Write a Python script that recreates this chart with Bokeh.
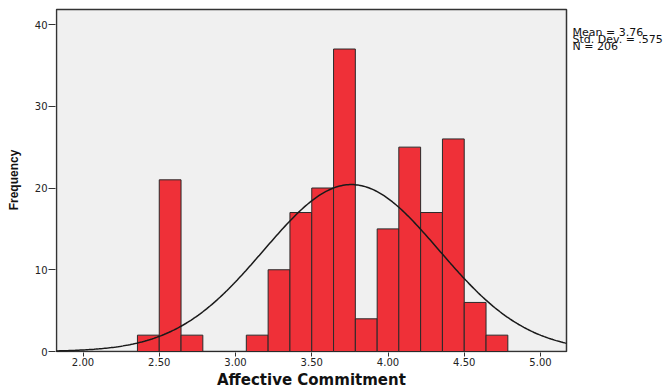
import numpy as np
from bokeh.plotting import figure
from bokeh.models import Range1d, FixedTicker, NumeralTickFormatter, Label, Title, ColumnDataSource
from bokeh.embed import file_html
from bokeh.resources import INLINE

# ---- data ----
bin_left = [2.357, 2.500, 2.643, 2.786, 2.929, 3.071, 3.214, 3.357, 3.500,
            3.643, 3.786, 3.929, 4.071, 4.214, 4.357, 4.500, 4.643]
bin_width = 1.0 / 7.0
counts = [2, 21, 2, 0, 0, 2, 10, 17, 20, 37, 4, 15, 25, 17, 26, 6, 2]
mean_val = 3.76
std_val = 0.575
n_val = 206
x_ticks = [2.0, 2.5, 3.0, 3.5, 4.0, 4.5, 5.0]
y_ticks = [0, 10, 20, 30, 40]
stats_lines = ["Mean = 3.76", "Std. Dev. = .575", "N = 206"]
x_title = "Affective Commitment"
y_title = "Frequency"

# ---- layout (pixels) ----
W, H = 670, 388
FL, FR, FT, FB = 56, 566, 9, 351      # visible chart box
PPX = 152.5                            # px per x unit
PPY = 8.175                            # px per count
X0 = 2.0 - (82.5 - FL) / PPX           # value at box left
X1 = X0 + (FR - FL) / PPX              # value at box right
Y1 = (FB - FT) / PPY                   # value at box top

# bokeh frame extends to the right edge so the stats text can sit beside the box
x_start = X0 - 1 / PPX
x_end = X0 + (W - FL) / PPX
y_start = -1 / PPY
y_end = Y1 + 2 / PPY

p = figure(width=W, height=H, output_backend="svg", toolbar_location=None, title=None,
           x_range=Range1d(x_start, x_end), y_range=Range1d(y_start, y_end),
           min_border_left=FL - 1, min_border_right=0, min_border_top=FT - 2,
           min_border_bottom=H - FB - 1)
p.background_fill_color = "white"
p.border_fill_color = "white"
p.outline_line_color = None
p.xgrid.visible = False
p.ygrid.visible = False

# grey chart box with dark border
p.quad(left=[X0], right=[X1], bottom=[0], top=[Y1],
       fill_color="#F0F0F0", line_color="#333333", line_width=1.5)

src = ColumnDataSource(dict(left=bin_left,
                            right=[b + bin_width for b in bin_left],
                            top=counts, bottom=[0] * len(counts)))
p.quad(left="left", right="right", top="top", bottom="bottom", source=src,
       fill_color="#EF3038", line_color="#2a2a2a", line_width=1)

# fitted normal curve defined by the displayed Mean / Std. Dev. / N
xs = np.linspace(X0, X1, 300)
ys = n_val * bin_width * np.exp(-0.5 * ((xs - mean_val) / std_val) ** 2) / (std_val * np.sqrt(2 * np.pi))
p.line(xs, ys, line_color="#1a1a1a", line_width=1.5)

for ax in (p.xaxis[0], p.yaxis[0]):
    ax.axis_line_color = None
    ax.major_tick_line_color = "#333333"
    ax.major_tick_line_width = 1
    ax.minor_tick_line_color = None
    ax.major_tick_in = 0
    ax.major_label_text_font = "DejaVu Sans"
    ax.major_label_text_font_size = "10px"
    ax.major_label_text_color = "#222222"

p.xaxis.ticker = FixedTicker(ticks=x_ticks)
p.xaxis.formatter = NumeralTickFormatter(format="0.00")
p.xaxis.major_tick_out = 4
p.xaxis.major_label_standoff = 1

# x-axis title centred under the grey box (not under the extended frame)
XT_W = 189  # approx rendered width of the title text
xt = Title(text=x_title, align="left", offset=(FL + FR) / 2 - XT_W / 2 - (FL - 1),
           text_font="DejaVu Sans", text_font_size="15px", text_font_style="bold",
           text_color="#111111", standoff=0)
p.add_layout(xt, "below")

p.yaxis.ticker = FixedTicker(ticks=y_ticks)
p.yaxis.major_tick_out = 7
p.yaxis.major_label_standoff = 1
p.yaxis.axis_label = y_title
p.yaxis.axis_label_text_font = "Liberation Sans"
p.yaxis.axis_label_text_font_style = "bold"
p.yaxis.axis_label_text_color = "#111111"
p.yaxis.axis_label_text_font_size = "12px"
p.yaxis.axis_label_standoff = 11

# stats text beside the box
for i, t in enumerate(stats_lines):
    base_px = 31.5 + 7 * i
    p.add_layout(Label(x=X1 + 6 / PPX, y=(FB - base_px) / PPY, text=t,
                       text_font="DejaVu Sans", text_font_size="11px",
                       text_color="#111111", text_baseline="alphabetic",
                       text_align="left"))

open("out.html", "w").write(file_html(p, INLINE))
